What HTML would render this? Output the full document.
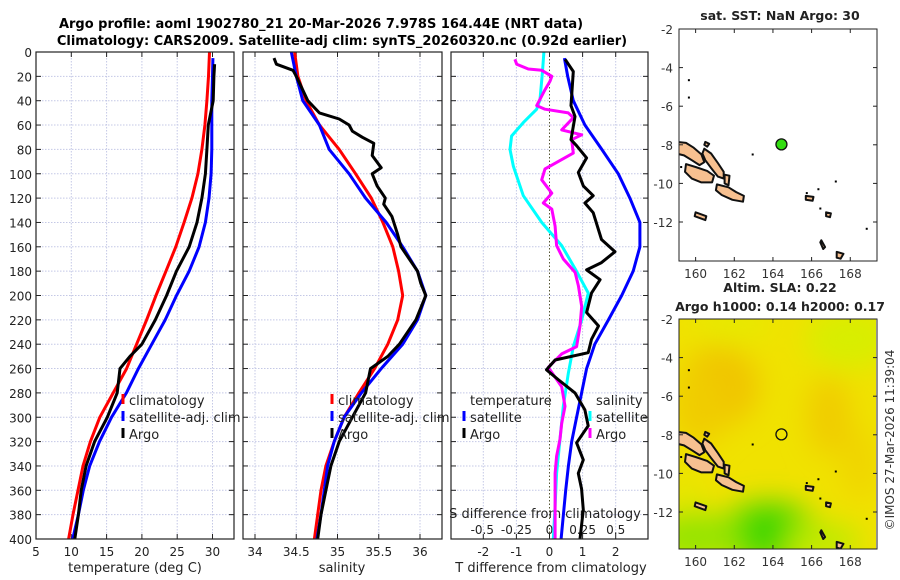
<!DOCTYPE html>
<html><head><meta charset="utf-8"><style>
html,body{margin:0;padding:0;background:#fff;}
svg{display:block;font-family:"DejaVu Sans","Liberation Sans",sans-serif;}
</style></head><body>
<svg id="fig" width="900" height="580" viewBox="0 0 900 580" xmlns="http://www.w3.org/2000/svg">
<defs>
<filter id="blur" x="-50%" y="-50%" width="200%" height="200%"><feGaussianBlur stdDeviation="14"/></filter>
<clipPath id="clipMap2"><rect x="679" y="319" width="197" height="230"/></clipPath>
<clipPath id="clipMap1"><rect x="679" y="29" width="198" height="232"/></clipPath>
<clipPath id="clipP1"><rect x="36" y="52" width="198" height="487"/></clipPath>
<clipPath id="clipP2"><rect x="243" y="52" width="199" height="487"/></clipPath>
<clipPath id="clipP3"><rect x="451" y="52" width="197" height="487"/></clipPath>
</defs>
<text x="321" y="28" text-anchor="middle" font-size="13" font-weight="bold">Argo profile: aoml 1902780_21 20-Mar-2026 7.978S 164.44E (NRT data)</text>
<text x="342" y="45" text-anchor="middle" font-size="13" font-weight="bold">Climatology: CARS2009. Satellite-adj clim: synTS_20260320.nc (0.92d earlier)</text>
<g id="g1"></g>
<g id="g2"></g>
<g id="g3"></g>
<g id="m1"></g>
<g id="m2"></g>
<text transform="translate(894,440) rotate(-90)" text-anchor="middle" font-size="12" fill="#333">©IMOS 27-Mar-2026 11:39:04</text>
</svg>
<script>
// ---- data ----
const depthClim = [0,20,40,60,80,100,120,140,160,180,200,220,240,260,280,300,320,340,360,380,400];
const tClim = [29.58,29.44,29.2,28.93,28.5,27.93,27.08,25.98,24.8,23.42,22.0,20.67,19.25,17.83,15.93,14.03,12.71,11.66,10.95,10.24,9.62];
const depthSat = [5,20,40,60,80,100,120,140,160,180,200,220,240,260,280,300,320,340,360,380,400];
const tSat = [30.06,30.0,29.9,29.9,29.9,29.8,29.5,29.0,28.1,26.7,24.9,23.3,21.4,19.5,17.8,15.7,14.0,12.6,11.7,11.0,10.2];
const depthArgoT = [10,20,40,60,80,100,120,140,160,180,200,220,240,250,260,280,300,320,340,360,380,400];
const tArgo = [30.3,30.2,30.1,29.4,29.2,29.0,28.5,27.8,26.7,24.9,23.5,21.9,20.0,18.3,16.9,16.5,15.1,13.3,12.1,11.4,11.0,10.5];
const sClim = [34.48,34.52,34.62,34.78,35.02,35.22,35.41,35.55,35.67,35.74,35.79,35.73,35.61,35.45,35.26,35.08,34.96,34.86,34.80,34.76,34.72];
const sSat = [34.44,34.50,34.58,34.78,34.90,35.14,35.34,35.59,35.79,35.97,36.07,35.97,35.79,35.53,35.29,35.08,34.96,34.88,34.84,34.80,34.75];
const depthArgoS = [5,10,15,20,40,50,55,60,65,70,75,85,95,100,110,120,125,135,150,160,180,190,200,220,240,250,260,280,300,320,340,360,380,400];
const sArgo = [34.23,34.26,34.46,34.50,34.64,34.78,35.02,35.14,35.18,35.30,35.44,35.42,35.53,35.42,35.48,35.58,35.56,35.66,35.73,35.77,35.97,36.01,36.07,35.95,35.75,35.61,35.40,35.34,35.18,35.02,34.92,34.86,34.80,34.76];
const dTSat = [0.45,0.55,0.72,1.07,1.58,2.08,2.43,2.73,2.73,2.53,2.18,1.78,1.37,1.12,0.97,0.82,0.67,0.57,0.49,0.42,0.35];
const depthDTArgo = [6,16,44,53,72,77,87,99,110,118,124,132,154,164,173,179,187,198,214,225,236,247,253,261,269,280,294,307,321,335,346,359,376,400];
const dTArgo = [0.47,0.72,0.65,0.77,0.65,0.82,1.12,0.87,1.02,1.32,1.07,1.32,1.57,1.98,1.57,1.12,1.53,1.27,1.12,1.48,1.27,1.17,0.17,-0.09,0.26,0.77,1.07,1.17,0.82,1.02,0.87,0.97,1.02,0.92];
const depthDSSat = [0,17,39,47,58,69,80,94,118,140,159,178,198,220,242,264,291,318,346,373,400];
const dSSat = [-0.042,-0.054,-0.072,-0.097,-0.198,-0.286,-0.298,-0.273,-0.198,-0.059,0.092,0.193,0.293,0.243,0.18,0.142,0.104,0.079,0.054,0.042,0.029];
const depthDSArgo = [6,10,14,15,20,24,31,44,47,50,54,64,68,72,83,96,105,116,124,129,143,159,170,181,192,209,225,242,248,259,275,291,305,318,332,346,373,400];
const dSArgo = [-0.261,-0.248,-0.16,-0.059,0.017,0.004,-0.034,-0.097,-0.034,0.142,0.18,0.092,0.243,0.168,0.18,-0.034,-0.059,0.017,-0.047,0.017,0.042,0.054,0.104,0.193,0.218,0.243,0.23,0.205,0.092,-0.009,0.092,0.117,0.092,0.079,0.054,0.042,0.042,0.042];
const depthTicks = [0,20,40,60,80,100,120,140,160,180,200,220,240,260,280,300,320,340,360,380,400];
const tTicks = [5,10,15,20,25,30];
const sTicks = [34,34.5,35,35.5,36];
const sTickLabels = ["34","34.5","35","35.5","36"];
const dTTicks = [-2,-1,0,1,2];
const dSTicks = [-0.5,-0.25,0,0.25,0.5];
const dSTickLabels = ["-0.5","-0.25","0","0.25","0.5"];
const floatLon = 164.44, floatLat = -7.978;
const lonTicks = [160,162,164,166,168];
const latTicks = [-2,-4,-6,-8,-10,-12];

// ---- helpers ----
const NS="http://www.w3.org/2000/svg";
function mk(parent,tag,attrs){const e=document.createElementNS(NS,tag);for(const k in attrs)e.setAttribute(k,attrs[k]);parent.appendChild(e);return e;}
function txt(parent,x,y,s,size,anchor){const e=mk(parent,'text',{x:x,y:y,'font-size':size,'text-anchor':anchor||'middle',fill:'#222'});e.textContent=s;return e;}
const Y0=52, Y1=539;
const yD = d => Y0 + d*(Y1-Y0)/400;
const xT = t => 36 + (t-5)*7.06;
const xS = s => 255 + (s-34)*82.5;
const xDT = v => 549.5 + v*33.1;
const xDS = v => 549.5 + v*132.4;

function panel(g,x0,x1,gridX,tickLabelsY){
  mk(g,'rect',{x:x0,y:Y0,width:x1-x0,height:Y1-Y0,fill:'#fff'});
  depthTicks.forEach(d=>{
    if(d>0&&d<400){const l=mk(g,'line',{x1:x0,x2:x1,y1:yD(d),y2:yD(d),stroke:'#c4c8e6','stroke-width':1,'stroke-dasharray':'1.5,1.5'});
    }
    mk(g,'line',{x1:x0,x2:x0+5,y1:yD(d),y2:yD(d),stroke:'#222'});
    mk(g,'line',{x1:x1-5,x2:x1,y1:yD(d),y2:yD(d),stroke:'#222'});
    if(tickLabelsY){const t=txt(g,x0-4,yD(d)+5,String(d),12,'end');}
  });
  gridX.forEach(x=>{
    const l=mk(g,'line',{x1:x,x2:x,y1:Y0,y2:Y1,stroke:'#c4c8e6','stroke-width':1,'stroke-dasharray':'1.5,1.5'});
    
    mk(g,'line',{x1:x,x2:x,y1:Y1-5,y2:Y1,stroke:'#222'});
    mk(g,'line',{x1:x,x2:x,y1:Y0,y2:Y0+5,stroke:'#222'});
  });
}
function border(g,x0,x1){const r=mk(g,'rect',{x:x0,y:Y0,width:x1-x0,height:Y1-Y0,fill:'none',stroke:'#222','stroke-width':1.2});}
function line(g,xs,ds,fx,color,name,clip){
  const pts=xs.map((v,i)=>fx(v).toFixed(1)+','+yD(ds[i]).toFixed(1)).join(' ');
  const p=mk(g,'polyline',{points:pts,fill:'none',stroke:color,'stroke-width':3,'stroke-linejoin':'round','clip-path':'url(#'+clip+')'});
  
  
}
function legendItem(g,x,y,color,label){
  mk(g,'line',{x1:x,x2:x,y1:y-11,y2:y-1,stroke:color,'stroke-width':3});
  const t=txt(g,x+6,y,label,13,'start');
  
  
}

// ---- panel 1 ----
const g1=document.getElementById('g1');
panel(g1,36,234,tTicks.slice(1).map(xT),true);
line(g1,tClim,depthClim,xT,'#ff0000','temperature-climatology-line','clipP1');
line(g1,tSat,depthSat,xT,'#0000ff','temperature-satellite-line','clipP1');
line(g1,tArgo,depthArgoT,xT,'#000000','temperature-argo-line','clipP1');
border(g1,36,234);
tTicks.forEach(t=>{const e=txt(g1,xT(t),556,String(t),12);});
{const e=txt(g1,135,572,'temperature (deg C)',13);}
legendItem(g1,123,405,'#ff0000','climatology');
legendItem(g1,123,422,'#0000ff','satellite-adj. clim');
legendItem(g1,123,439,'#000000','Argo');

// ---- panel 2 ----
const g2=document.getElementById('g2');
panel(g2,243,442,sTicks.map(xS),false);
line(g2,sClim,depthClim,xS,'#ff0000','salinity-climatology-line','clipP2');
line(g2,sSat,depthClim,xS,'#0000ff','salinity-satellite-line','clipP2');
line(g2,sArgo,depthArgoS,xS,'#000000','salinity-argo-line','clipP2');
border(g2,243,442);
sTicks.forEach((s,i)=>{const e=txt(g2,xS(s),556,sTickLabels[i],12);});
{const e=txt(g2,342,572,'salinity',13);}
legendItem(g2,332,405,'#ff0000','climatology');
legendItem(g2,332,422,'#0000ff','satellite-adj. clim');
legendItem(g2,332,439,'#000000','Argo');

// ---- panel 3 ----
const g3=document.getElementById('g3');
panel(g3,451,648,dTTicks.filter(v=>v!==0).map(xDT),false);
mk(g3,'line',{x1:xDT(0),x2:xDT(0),y1:Y0,y2:Y1,stroke:'#555533','stroke-width':1,'stroke-dasharray':'1.5,2'});
mk(g3,'line',{x1:xDT(0),x2:xDT(0),y1:Y1-5,y2:Y1,stroke:'#222'});
mk(g3,'line',{x1:xDT(0),x2:xDT(0),y1:Y0,y2:Y0+5,stroke:'#222'});
{const e=txt(g3,545,518,'S difference from climatology',13);}
dSTicks.forEach((v,i)=>{const e=txt(g3,xDS(v)+(i===0?-1:0),534,dSTickLabels[i],12);});
line(g3,dSSat,depthDSSat,xDS,'#00ffff','salinity-satellite-difference-line','clipP3');
line(g3,dSArgo,depthDSArgo,xDS,'#ff00ff','salinity-argo-difference-line','clipP3');
line(g3,dTSat,depthSat,xDT,'#0000ff','temperature-satellite-difference-line','clipP3');
line(g3,dTArgo,depthDTArgo,xDT,'#000000','temperature-argo-difference-line','clipP3');
border(g3,451,648);
dTTicks.forEach(v=>{const e=txt(g3,xDT(v),556,String(v),12);});
{const e=txt(g3,551,572,'T difference from climatology',13);}
{const e=txt(g3,470,405,'temperature',13,'start');}
{const e=txt(g3,596,405,'salinity',13,'start');}
legendItem(g3,464,422,'#0000ff','satellite');
legendItem(g3,464,439,'#000000','Argo');
legendItem(g3,590,422,'#00ffff','satellite');
legendItem(g3,590,439,'#ff00ff','Argo');

// ---- maps ----
const islands = [
 [[159.0,-7.85],[159.5,-7.9],[159.9,-8.15],[160.3,-8.5],[160.45,-8.9],[160.2,-9.05],[159.8,-8.8],[159.4,-8.55],[159.0,-8.45]],
 [[159.5,-9.0],[160.0,-9.15],[160.6,-9.35],[160.95,-9.6],[160.85,-9.95],[160.3,-9.95],[159.8,-9.75],[159.45,-9.4]],
 [[160.45,-8.2],[160.8,-8.45],[161.15,-8.95],[161.45,-9.4],[161.45,-9.75],[161.15,-9.65],[160.8,-9.2],[160.5,-8.8],[160.35,-8.45]],
 [[161.1,-10.05],[161.7,-10.2],[162.1,-10.45],[162.5,-10.65],[162.45,-10.95],[161.9,-10.85],[161.35,-10.6],[161.05,-10.35]],
 [[160.0,-11.5],[160.55,-11.7],[160.5,-11.9],[159.95,-11.7]],
 [[161.5,-9.55],[161.75,-9.6],[161.7,-10.1],[161.5,-10.0]],
 [[160.5,-7.85],[160.7,-7.95],[160.6,-8.1],[160.45,-8.0]],
 [[165.7,-10.65],[166.1,-10.7],[166.05,-10.9],[165.7,-10.85]],
 [[166.75,-11.5],[167.0,-11.55],[166.95,-11.75],[166.75,-11.7]],
 [[167.3,-13.55],[167.65,-13.65],[167.5,-13.9],[167.3,-13.85]],
 [[166.5,-12.95],[166.7,-13.3],[166.6,-13.4],[166.45,-13.05]]
];
const specks = [[159.6,-4.6],[159.6,-5.5],[162.9,-8.45],[166.3,-10.25],[167.2,-9.85],[166.4,-11.25],[168.8,-12.3],[165.7,-10.45],[159.2,-9.1]];
function drawMap(id,top,bottom,title1,title2,heat){
  const g=document.getElementById(id);
  const L=679, R=877, lon0=159.14, sc=19.33;
  const px=lon=>L+(lon-lon0)*sc, py=lat=>top+(-2-lat)*19.3;
  mk(g,'rect',{x:L,y:top,width:R-L,height:bottom-top,fill:'#fff'});
  if(heat){
    const hg=mk(g,'g',{'clip-path':'url(#clipMap2)'});
    
    
    mk(hg,'rect',{x:L,y:top,width:R-L,height:bottom-top,fill:'#f0e200'});
    const bl=mk(hg,'g',{filter:'url(#blur)'});
    [[161.2,-5.5,40,40,'#f0c400'],[160.2,-6.5,28,40,'#f0cc00'],[166.9,-7,22,40,'#f0cc00'],[168.5,-9.5,18,36,'#f0d400'],
     [168,-3,45,30,'#d8ee00'],[162,-2.3,40,15,'#e6ea00'],[163.8,-13.1,50,32,'#58dc00'],[160,-13.3,45,26,'#96e400'],[166.5,-13.5,40,18,'#bcea00'],[163.8,-12.9,20,18,'#38d400'],[159.5,-11,20,20,'#e6e600']]
      .forEach(b=>mk(bl,'ellipse',{cx:px(b[0]),cy:py(b[1]),rx:b[2],ry:b[3],fill:b[4]}));
  }
  const ig=mk(g,'g',{'clip-path':heat?'url(#clipMap2)':'url(#clipMap1)'});
  islands.forEach(p=>{
    const e=mk(ig,'polygon',{points:p.map(q=>px(q[0]).toFixed(1)+','+py(q[1]).toFixed(1)).join(' '),fill:'#f7c090',stroke:'#111','stroke-width':2,'stroke-linejoin':'round'});
    
    
  });
  specks.forEach(s=>mk(g,'rect',{x:px(s[0]),y:py(s[1]),width:2,height:2,fill:'#000'}));
  const m=mk(g,'circle',{cx:px(floatLon),cy:py(floatLat),r:5.5,fill:heat?'none':'#33dd11',stroke:'#111','stroke-width':1.3});
  
  
  mk(g,'rect',{x:L,y:top,width:R-L,height:bottom-top,fill:'none',stroke:'#222','stroke-width':1});
  latTicks.forEach(la=>{const y=py(la);if(y<top-1||y>bottom)return;
    mk(g,'line',{x1:L,x2:L+4,y1:y,y2:y,stroke:'#222'});mk(g,'line',{x1:R-4,x2:R,y1:y,y2:y,stroke:'#222'});
    const t=txt(g,L-6,y+5,String(la),12,'end');t.setAttribute('fill','#333');
    });
  lonTicks.forEach(lo=>{const x=px(lo);
    mk(g,'line',{x1:x,x2:x,y1:bottom-4,y2:bottom,stroke:'#222'});mk(g,'line',{x1:x,x2:x,y1:top,y2:top+4,stroke:'#222'});
    const t=txt(g,x,bottom+17,String(lo),12);t.setAttribute('fill','#333');
    });
  const t1=txt(g,780,title2?top-27:top-9,title1,12.5);t1.setAttribute('font-weight','bold');
  
  if(title2){const t2=txt(g,780,top-8,title2,12.5);t2.setAttribute('font-weight','bold');
    }
}
drawMap('m1',29,261,'sat. SST: NaN Argo: 30',null,false);
drawMap('m2',319,549,'Altim. SLA: 0.22','Argo h1000: 0.14 h2000: 0.17',true);
</script>
</body></html>
